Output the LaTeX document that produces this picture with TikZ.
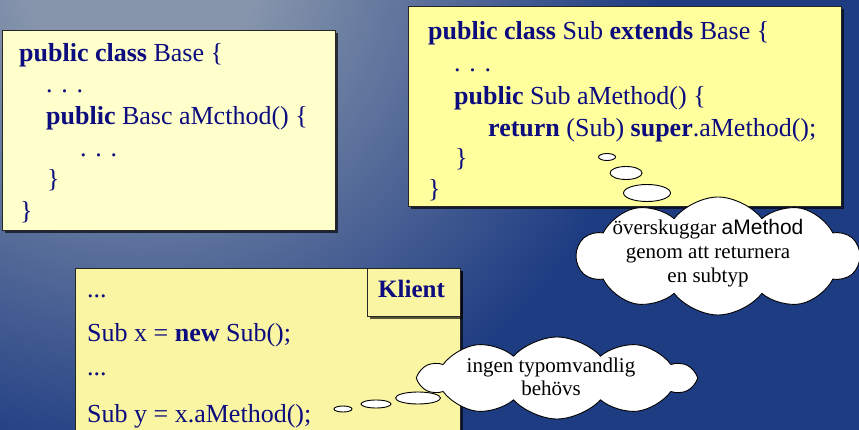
\documentclass[tikz,border=0pt]{standalone}
\usepackage{fontspec}
\setmainfont{Liberation Serif}
\newfontfamily\sansword{Liberation Sans}
\usetikzlibrary{shadows,shapes.symbols,shapes.geometric}

\definecolor{bgA}{HTML}{8695AC}
\definecolor{bgB}{HTML}{1E3C82}
\definecolor{codeink}{HTML}{0C0C7E}
\definecolor{paleyellow}{HTML}{FFFFCC}
\definecolor{subyellow}{HTML}{FFFF9E}
\definecolor{clientyellow}{HTML}{F9F5A2}

% radial backdrop: 25bp corresponds to the radius of the shaded circle
\pgfdeclareradialshading{slidebg}{\pgfpoint{0bp}{0bp}}{%
  color(0bp)=(bgA); color(3bp)=(bgA); color(13bp)=(bgB); color(50bp)=(bgB)}

\tikzset{
  codebox/.style={draw=black!85, line width=0.8pt, inner sep=0pt,
    drop shadow={shadow xshift=3pt, shadow yshift=-3pt, fill=black, opacity=0.65}},
  code/.style={anchor=base west, inner sep=0pt, text=codeink,
    font=\fontsize{26}{31}\selectfont},
  thought/.style={cloud, cloud puffs=10, cloud puff arc=105, cloud ignores aspect,
    draw=black, line width=0.9pt, fill=white, inner sep=0pt},
  bubble/.style={ellipse, draw=black, line width=0.9pt, fill=white, inner sep=0pt},
  note/.style={anchor=base, inner sep=0pt, text=black,
    font=\fontsize{21}{24}\selectfont},
}

\begin{document}
\begin{tikzpicture}[x=1pt, y=-1pt]
  \clip (0,0) rectangle (859,430);
  \shade[shading=slidebg] (140,-40) circle (1000);

  % class Base
  \node[codebox, fill=paleyellow, minimum width=333pt, minimum height=200pt,
        anchor=north west] (basebox) at (2,30) {};
  \node[code] (b1) at (19,62)  {\textbf{public class} Base \{};
  \node[code] (b2) at (46,93)  {. . .};
  \node[code] (b3) at (46,125) {\textbf{public} Basc aMcthod() \{};
  \node[code] (b4) at (80,157) {. . .};
  \node[code] (b5) at (47,188) {\}};
  \node[code] (b6) at (20,220) {\}};

  % class Sub
  \node[codebox, fill=subyellow, minimum width=433pt, minimum height=200pt,
        anchor=north west] (subbox) at (408,6) {};
  \node[code] (s1) at (428,40)  {\textbf{public class} Sub \textbf{extends} Base \{};
  \node[code] (s2) at (454,72)  {. . .};
  \node[code] (s3) at (454,105) {\textbf{public} Sub aMethod() \{};
  \node[code] (s4) at (488,137) {\textbf{return} (Sub) \textbf{super}.aMethod();};
  \node[code] (s5) at (455,167) {\}};
  \node[code] (s6) at (428,198) {\}};

  % client code
  \node[codebox, fill=clientyellow, minimum width=385pt, minimum height=190pt,
        anchor=north west] (clientbox) at (75,268) {};
  \node[codebox, fill=clientyellow, minimum width=93pt, minimum height=48pt,
        anchor=north east] (tab) at (clientbox.north east) {};
  \node[code, font=\fontsize{25}{30}\selectfont\bfseries] (tablabel) at (378,298) {Klient};
  \node[code] (k1) at (87,298) {...};
  \node[code] (k2) at (87,341) {Sub x = \textbf{new} Sub();};
  \node[code] (k3) at (87,375) {...};
  \node[code] (k4) at (87,422) {Sub y = x.aMethod();};

  % thought about the overriding method
  \node[bubble, minimum width=17pt, minimum height=7pt]  (t1a) at (607,157) {};
  \node[bubble, minimum width=32pt, minimum height=13pt] (t1b) at (626,173) {};
  \node[bubble, minimum width=47pt, minimum height=17pt] (t1c) at (647,193) {};
  \node[thought, minimum width=282pt, minimum height=118pt] (cloudA) at (718,256) {};
  \node[note] (nA1) at (708,235) {överskuggar {\sansword aMethod}};
  \node[note] (nA2) at (708,259) {genom att returnera};
  \node[note] (nA3) at (708,283) {en subtyp};

  % thought about the client call
  \node[bubble, minimum width=18pt, minimum height=6pt]  (t2a) at (343,409) {};
  \node[bubble, minimum width=30pt, minimum height=8pt]  (t2b) at (376,404) {};
  \node[bubble, minimum width=45pt, minimum height=12pt] (t2c) at (418,398) {};
  \node[thought, cloud puffs=10, cloud puff arc=95, minimum width=274pt, minimum height=82pt] (cloudB) at (557,378) {};
  \node[note] (nB1) at (551,372) {ingen typomvandlig};
  \node[note] (nB2) at (551,395) {behövs};
\end{tikzpicture}
\end{document}
